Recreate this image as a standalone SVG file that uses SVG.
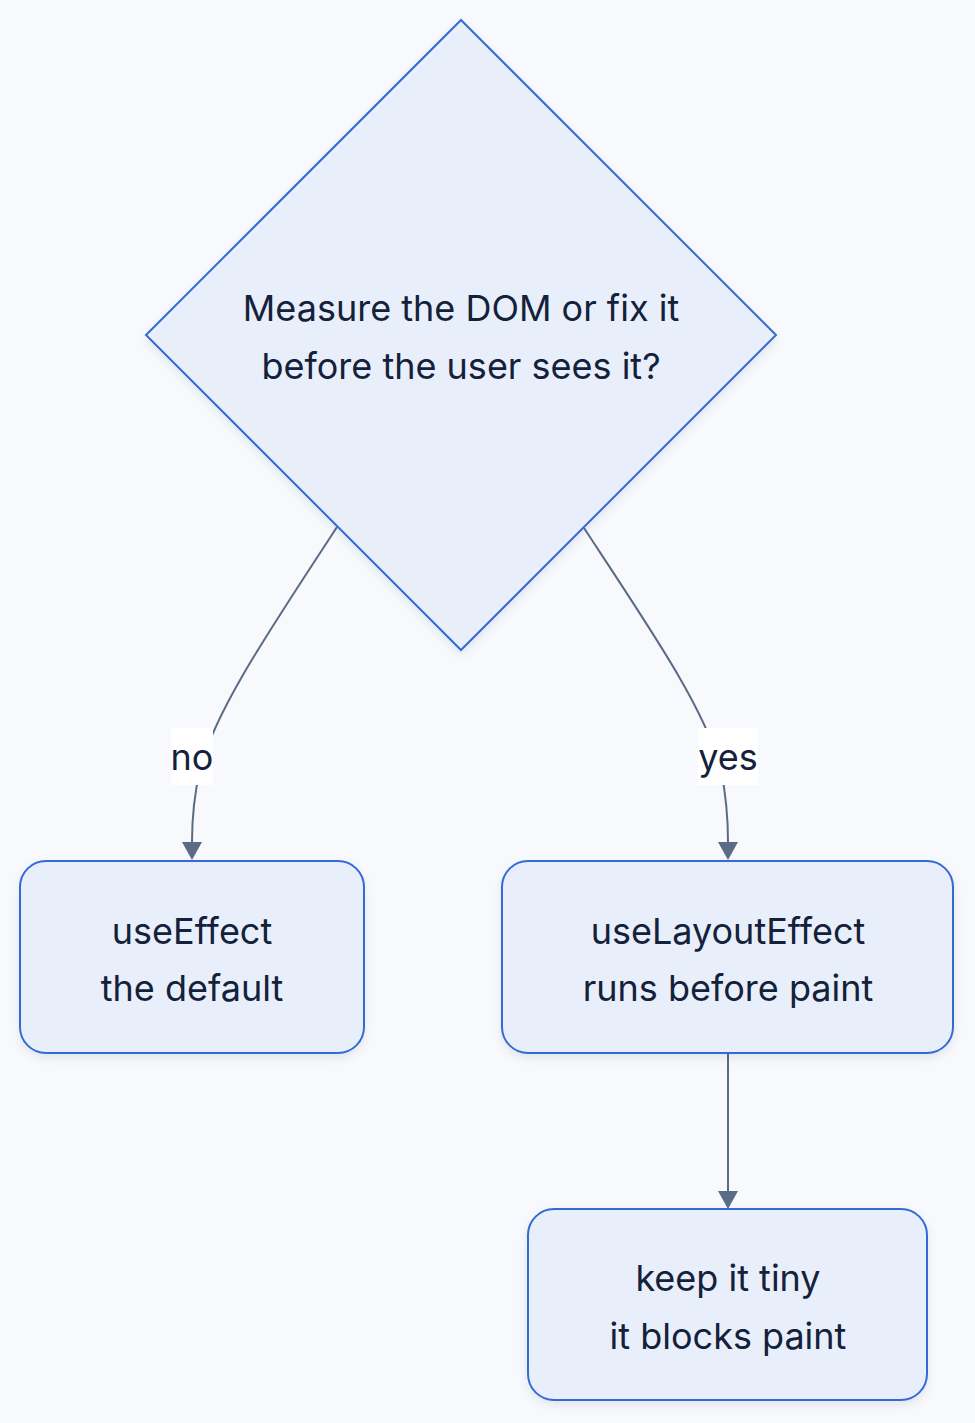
<svg xmlns="http://www.w3.org/2000/svg" width="975" height="1423" viewBox="0 0 975 1423">
<defs>
<style>
.bg{fill:#f7f9fc}
.node{fill:#e9effa;stroke:#336bd6;stroke-width:2}
.t{font-family:Inter,"Noto Sans",sans-serif;font-size:36px;fill:#14213b;text-anchor:middle}
.edge{fill:none;stroke:#5b6b85;stroke-width:2}
.lbl{fill:#ffffff}
</style>
<filter id="sh" x="-10%" y="-10%" width="120%" height="130%">
<feDropShadow dx="0" dy="4" stdDeviation="5" flood-color="#1e2a44" flood-opacity="0.08"/>
</filter>
<marker id="arr" markerUnits="userSpaceOnUse" markerWidth="20" markerHeight="20" viewBox="0 0 18 20" refX="0" refY="10" orient="auto">
<path d="M0,0 L18,10 L0,20 z" fill="#5b6b85"/>
</marker>
</defs>
<rect class="bg" x="0" y="0" width="975" height="1423"/>
<g id="connectors">
<path class="edge" d="M337,527 C270,630 215,710 200,770 C193,800 192,825 192,842" marker-end="url(#arr)"/>
<path class="edge" d="M584,528 C651,630 706,710 721,770 C727,800 728,825 728,842" marker-end="url(#arr)"/>
<path class="edge" d="M728,1053 L728,1191" marker-end="url(#arr)"/>
<g id="label-no"><rect class="lbl" x="171" y="728" width="42" height="57"/><text class="t" x="192" y="770">no</text></g>
<g id="label-yes"><rect class="lbl" x="698" y="728" width="60" height="57"/><text class="t" x="728" y="770">yes</text></g>
</g>
<g id="decision">
<polygon class="node" filter="url(#sh)" points="461,20 776,335 461,650 146,335"/>
<text class="t" x="461" y="321">Measure the DOM or fix it</text>
<text class="t" x="461" y="379">before the user sees it?</text>
</g>
<g id="useEffect">
<rect class="node" filter="url(#sh)" x="20" y="861" width="344" height="192" rx="26"/>
<text class="t" x="192" y="944">useEffect</text>
<text class="t" x="192" y="1001">the default</text>
</g>
<g id="useLayoutEffect">
<rect class="node" filter="url(#sh)" x="502" y="861" width="451" height="192" rx="26"/>
<text class="t" x="728" y="944">useLayoutEffect</text>
<text class="t" x="728" y="1001">runs before paint</text>
</g>
<g id="keepTiny">
<rect class="node" filter="url(#sh)" x="528" y="1209" width="399" height="191" rx="26"/>
<text class="t" x="728" y="1291">keep it tiny</text>
<text class="t" x="728" y="1349">it blocks paint</text>
</g>
</svg>
